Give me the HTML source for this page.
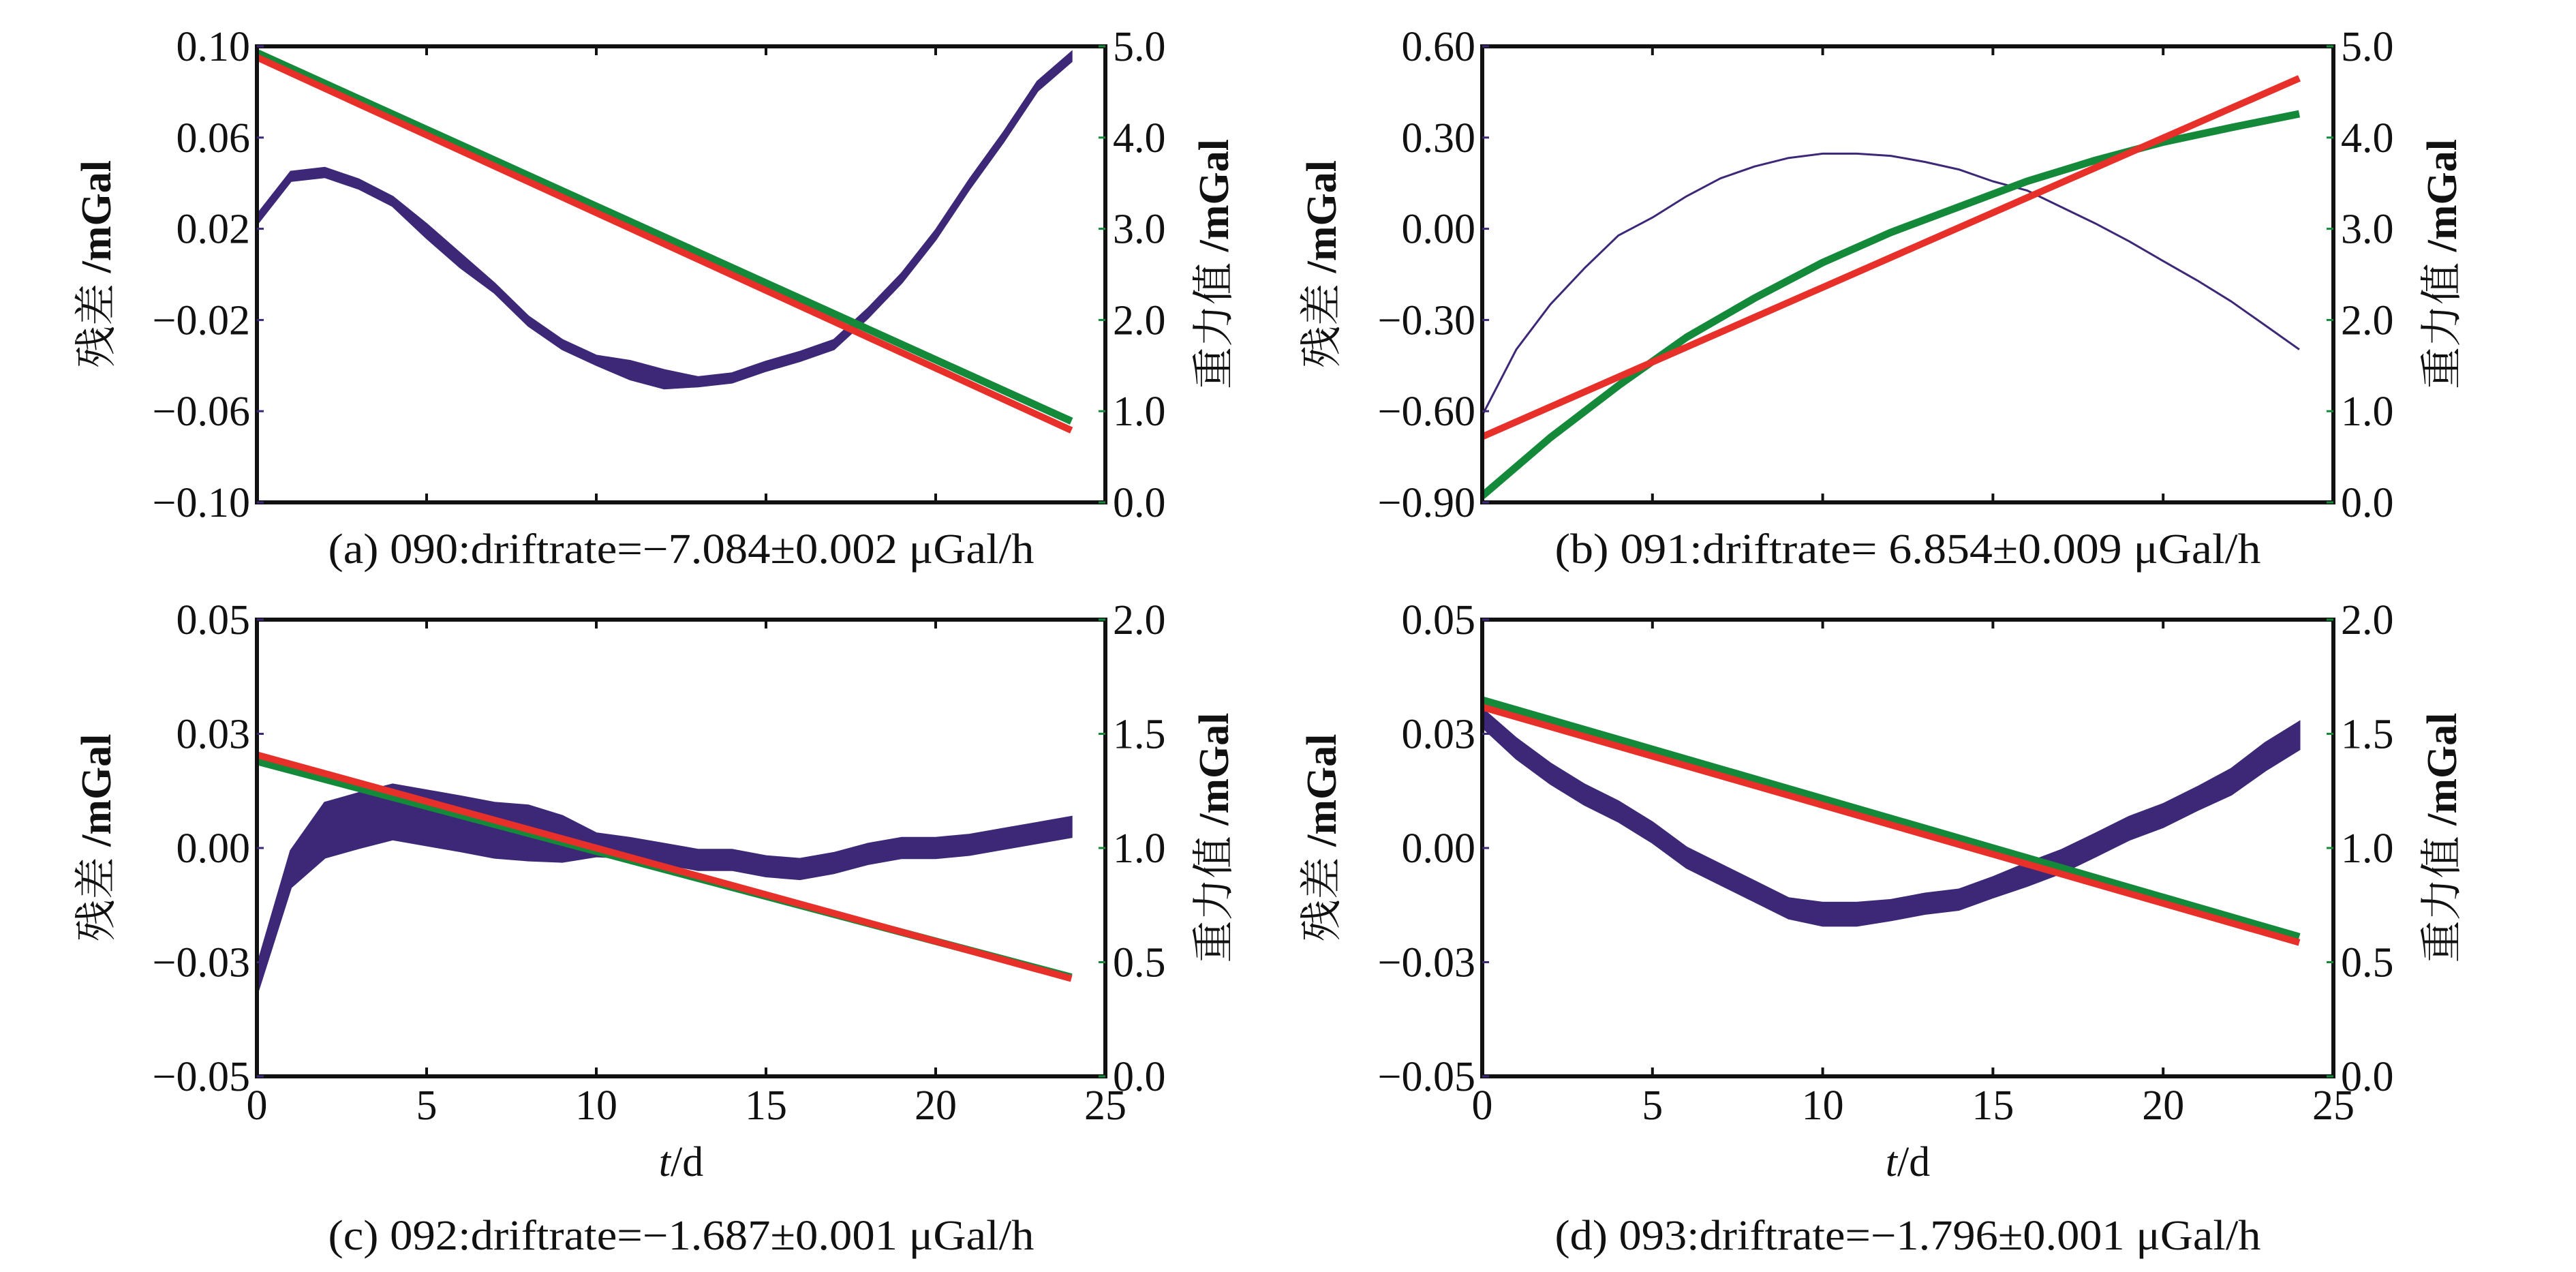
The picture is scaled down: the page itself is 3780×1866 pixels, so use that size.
<!DOCTYPE html>
<html><head><meta charset="utf-8"><style>
html,body{margin:0;padding:0;background:#fff;}
svg{display:block;}
text{font-family:"Liberation Serif","Noto Serif CJK SC",serif;fill:#111;}
</style></head><body>
<svg id="fig" xmlns="http://www.w3.org/2000/svg" width="3780" height="1866" viewBox="0 0 3780 1866"></svg>
<script>
// ---- data (t in days) ----
const tGrid = [0,1,2,3,4,5,6,7,8,9,10,11,12,13,14,15,16,17,18,19,20,21,22,23,24];
// panel a (090)
const resA = [0.024,0.043,0.0447,0.0396,0.032,0.019,0.006,-0.006,-0.0205,-0.0308,-0.0377,-0.042,-0.046,-0.0471,-0.0454,-0.0403,-0.036,-0.0308,-0.0171,-0.0016,0.0173,0.0396,0.0602,0.0825,0.0954];
const ampA = [0.002,0.002,0.002,0.002,0.002,0.003,0.003,0.002,0.002,0.002,0.002,0.004,0.004,0.002,0.002,0.002,0.002,0.002,0.002,0.002,0.002,0.002,0.002,0.002,0.002];
const grnA = [4.93,0.89];
const redA = [4.88,0.79];
// panel b (091)
const resB = [-0.614,-0.397,-0.249,-0.130,-0.022,0.037,0.107,0.166,0.205,0.233,0.247,0.247,0.240,0.220,0.195,0.156,0.126,0.072,0.018,-0.041,-0.106,-0.170,-0.239,-0.318,-0.397];
const ampB = [0,0,0,0,0,0,0,0,0,0,0,0,0,0,0,0,0,0,0,0,0,0,0,0,0];
const grnBt = [0,2,4,6,8,10,12,14,16,18,20,22,24];
const grnBv = [0.07,0.71,1.28,1.81,2.24,2.63,2.96,3.24,3.52,3.75,3.95,4.11,4.26];
const redB = [0.72,4.65];
// panel c (092)
const resC = [-0.029,-0.0046,0.0039,0.006,0.0079,0.0066,0.0053,0.0039,0.0033,0.002,0.0007,0.0,-0.0013,-0.0026,-0.0026,-0.004,-0.0046,-0.0033,-0.0013,0,0,0.0007,0.002,0.0033,0.0046];
const ampC = [0.003,0.004,0.006,0.006,0.006,0.006,0.006,0.006,0.006,0.005,0.0025,0.0022,0.0022,0.0022,0.0022,0.0022,0.0022,0.0022,0.0022,0.0022,0.0022,0.0022,0.0022,0.0022,0.0022];
const grnC = [1.38,0.434];
const redC = [1.408,0.428];
// panel d (093)
const resD = [0.0285,0.0218,0.0163,0.0117,0.008,0.0034,-0.0021,-0.0058,-0.0095,-0.0132,-0.0145,-0.0145,-0.0136,-0.0122,-0.0113,-0.0086,-0.0058,-0.003,0.0006,0.0043,0.0071,0.0108,0.0145,0.02,0.0246];
const ampD = [0.002,0.0022,0.0022,0.0022,0.0022,0.0022,0.0022,0.0022,0.0022,0.0022,0.0025,0.0025,0.0022,0.0022,0.0022,0.0022,0.0025,0.0025,0.0025,0.0025,0.0025,0.0025,0.0028,0.003,0.003];
const grnD = [1.648,0.611];
const redD = [1.617,0.586];
const lineT = [0,24];
// ticks
const xTicks = [0,5,10,15,20,25];
const yTicksA = [-0.1,-0.06,-0.02,0.02,0.06,0.1];
const yLabelsA = ["−0.10","−0.06","−0.02","0.02","0.06","0.10"];
const yTicksB = [-0.9,-0.6,-0.3,0,0.3,0.6];
const yLabelsB = ["−0.90","−0.60","−0.30","0.00","0.30","0.60"];
const yTicksCD = [-0.05,-0.025,0,0.025,0.05];
const yLabelsCD = ["−0.05","−0.03","0.00","0.03","0.05"];
const rTicksAB = [0,1,2,3,4,5];
const rLabelsAB = ["0.0","1.0","2.0","3.0","4.0","5.0"];
const rTicksCD = [0,0.5,1,1.5,2];
const rLabelsCD = ["0.0","0.5","1.0","1.5","2.0"];
const captions = ["(a) 090:driftrate=−7.084±0.002 μGal/h","(b) 091:driftrate= 6.854±0.009 μGal/h","(c) 092:driftrate=−1.687±0.001 μGal/h","(d) 093:driftrate=−1.796±0.001 μGal/h"];

const NS="http://www.w3.org/2000/svg";
const svg=document.getElementById('fig');
function mk(tag,attrs,parent){const e=document.createElementNS(NS,tag);for(const k in attrs)e.setAttribute(k,attrs[k]);(parent||svg).appendChild(e);return e;}
const PURPLE="#3d2878", GREEN="#14893a", RED="#e8302a";

function panel(cfg){
  const g=mk('g',{});
  
  
  const L=cfg.x0,R=cfg.x1,T=cfg.y0,B=cfg.y1;
  const sx=t=>L+(t-0)/25*(R-L);
  const sy=v=>B-(v-cfg.ymin)/(cfg.ymax-cfg.ymin)*(B-T);
  const sr=v=>B-(v-cfg.rmin)/(cfg.rmax-cfg.rmin)*(B-T);
  // residual band
  if(cfg.amp.some(a=>a>0)){
    let d='M'+cfg.tG.map((t,i)=>sx(t).toFixed(1)+','+sy(cfg.res[i]+cfg.amp[i]).toFixed(1)).join('L');
    for(let i=cfg.tG.length-1;i>=0;i--) d+='L'+sx(cfg.tG[i]).toFixed(1)+','+sy(cfg.res[i]-cfg.amp[i]).toFixed(1);
    const band=mk('path',{d:d+'Z',fill:PURPLE,stroke:PURPLE,'stroke-width':3},g);
    
    
  }
  const rl=mk('polyline',{points:cfg.tG.map((t,i)=>sx(t).toFixed(1)+','+sy(cfg.res[i]).toFixed(1)).join(' '),fill:'none',stroke:PURPLE,'stroke-width':cfg.resW,'stroke-linejoin':'round'},g);
  
  
  const gl=mk('polyline',{points:cfg.gT.map((t,i)=>sx(t).toFixed(1)+','+sr(cfg.gV[i]).toFixed(1)).join(' '),fill:'none',stroke:GREEN,'stroke-width':11,'stroke-linejoin':'round'},g);
  
  
  const rdl=mk('polyline',{points:lineT.map((t,i)=>sx(t).toFixed(1)+','+sr(cfg.red[i]).toFixed(1)).join(' '),fill:'none',stroke:RED,'stroke-width':10},g);
  
  
  // frame
  const fr=mk('rect',{x:L,y:T,width:R-L,height:B-T,fill:'none',stroke:'#111','stroke-width':6},g);
  
  
  // x ticks
  xTicks.forEach(t=>{
    if(t>0&&t<25){
      mk('line',{x1:sx(t),x2:sx(t),y1:B,y2:B-13,stroke:'#111','stroke-width':4},g);
      mk('line',{x1:sx(t),x2:sx(t),y1:T,y2:T+13,stroke:'#111','stroke-width':4},g);
    }
    if(cfg.xlabels){
      const tx=mk('text',{x:sx(t),y:1642,'font-size':62,'text-anchor':'middle'},g);
      tx.textContent=t;
      
      
    }
  });
  cfg.yT.forEach((v,i)=>{
    mk('line',{x1:L,x2:L+10,y1:sy(v),y2:sy(v),stroke:PURPLE,'stroke-width':3},g);
    const tx=mk('text',{x:L-10,y:sy(v)+21,'font-size':62,'text-anchor':'end'},g);
    tx.textContent=cfg.yL[i];
    
    
  });
  cfg.rT.forEach((v,i)=>{
    mk('line',{x1:R,x2:R-10,y1:sr(v),y2:sr(v),stroke:GREEN,'stroke-width':3},g);
    const tx=mk('text',{x:R+11,y:sr(v)+21,'font-size':62,'text-anchor':'start'},g);
    tx.textContent=cfg.rL[i];
    
    
  });
  const cy=(T+B)/2-15;
  const yl=mk('text',{x:0,y:0,'font-size':62,'text-anchor':'middle',transform:`translate(${L-215},${cy}) rotate(-90)`},g);
  yl.innerHTML='残差 <tspan font-weight="bold">/mGal</tspan>';
  
  
  const yr=mk('text',{x:0,y:0,'font-size':62,'text-anchor':'middle',transform:`translate(${R+180},${cy}) rotate(-90)`},g);
  yr.innerHTML='重力值 <tspan font-weight="bold">/mGal</tspan>';
  
  
  if(cfg.xlabels){
    const xt=mk('text',{x:(L+R)/2,y:1725,'font-size':62,'text-anchor':'middle'},g);
    xt.innerHTML='<tspan font-style="italic">t</tspan>/d';
    
    
  }
  const cp=mk('text',{x:(L+R)/2,y:cfg.capY,'font-size':62,'text-anchor':'middle',textLength:1036,lengthAdjust:'spacingAndGlyphs'},g);
  cp.textContent=cfg.cap;
  
  
}
const LX=[377,1622], RX=[2175,3424], TY=[68,737], BY=[909,1579];
panel({name:'panel-a-090',x0:LX[0],x1:LX[1],y0:TY[0],y1:TY[1],ymin:-0.1,ymax:0.1,rmin:0,rmax:5,tG:tGrid,res:resA,amp:ampA,resW:5,gT:lineT,gV:grnA,red:redA,yT:yTicksA,yL:yLabelsA,rT:rTicksAB,rL:rLabelsAB,xlabels:false,capY:826,cap:captions[0]});
panel({name:'panel-b-091',x0:RX[0],x1:RX[1],y0:TY[0],y1:TY[1],ymin:-0.9,ymax:0.6,rmin:0,rmax:5,tG:tGrid,res:resB,amp:ampB,resW:3,gT:grnBt,gV:grnBv,red:redB,yT:yTicksB,yL:yLabelsB,rT:rTicksAB,rL:rLabelsAB,xlabels:false,capY:826,cap:captions[1]});
panel({name:'panel-c-092',x0:LX[0],x1:LX[1],y0:BY[0],y1:BY[1],ymin:-0.05,ymax:0.05,rmin:0,rmax:2,tG:tGrid,res:resC,amp:ampC,resW:4,gT:lineT,gV:grnC,red:redC,yT:yTicksCD,yL:yLabelsCD,rT:rTicksCD,rL:rLabelsCD,xlabels:true,capY:1833,cap:captions[2]});
panel({name:'panel-d-093',x0:RX[0],x1:RX[1],y0:BY[0],y1:BY[1],ymin:-0.05,ymax:0.05,rmin:0,rmax:2,tG:tGrid,res:resD,amp:ampD,resW:4,gT:lineT,gV:grnD,red:redD,yT:yTicksCD,yL:yLabelsCD,rT:rTicksCD,rL:rLabelsCD,xlabels:true,capY:1833,cap:captions[3]});
</script>
</body></html>
